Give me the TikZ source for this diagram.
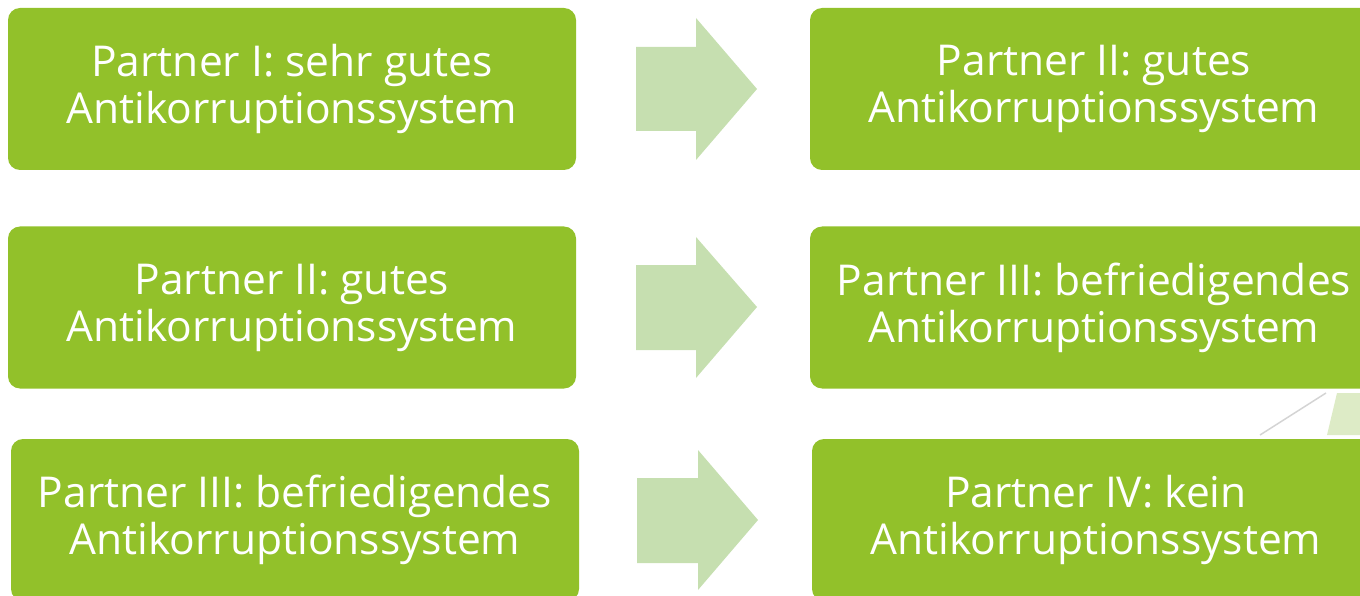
\documentclass[tikz,border=0pt]{standalone}
\usepackage{fontspec}
\setmainfont{Open Sans}
\definecolor{boxgreen}{HTML}{92C12A}
\definecolor{arrowgreen}{HTML}{C6DFB0}
\definecolor{palegreen}{HTML}{DDEBC6}
\definecolor{linegrey}{HTML}{D4D4D4}
\begin{document}
\begin{tikzpicture}[x=1pt,y=-1pt,
  pbox/.style={fill=boxgreen,draw=none,rounded corners=12pt,minimum width=568pt,minimum height=162pt,inner sep=0pt,align=center,text=white,font=\fontsize{42.5}{47}\selectfont},
  parrow/.style={fill=arrowgreen,draw=none}]
\useasboundingbox (0,0) rectangle (1360,596);
\begin{scope}
\clip (0,0) rectangle (1360,596);
\node[pbox] (l1) at (292,89) {Partner I: sehr gutes\\Antikorruptionssystem};
\node[pbox] (l2) at (292,307.5) {Partner II: gutes\\Antikorruptionssystem};
\node[pbox] (l3) at (295,520) {Partner III: befriedigendes\\Antikorruptionssystem};
\node[pbox] (r1) at (1094,89) {Partner II: gutes\\Antikorruptionssystem};
\node[pbox] (r2) at (1094,307.5) {Partner III: befriedigendes\\Antikorruptionssystem};
\node[pbox] (r3) at (1096,520) {Partner IV: kein\\Antikorruptionssystem};
\fill[parrow] (636,47) -- (696,47) -- (696,18) -- (757,89) -- (696,160) -- (696,131) -- (636,131) -- cycle;
\fill[parrow] (636,265) -- (696,265) -- (696,237) -- (757,307) -- (696,378) -- (696,350) -- (636,350) -- cycle;
\fill[parrow] (637,478) -- (698,478) -- (698,450) -- (758,520) -- (698,590) -- (698,563) -- (637,563) -- cycle;
\draw[linegrey,line width=1.5pt] (1326,393) -- (1260,435);
\fill[palegreen] (1337,393) -- (1360,393) -- (1360,435) -- (1327,435) -- cycle;
\end{scope}
\end{tikzpicture}
\end{document}
